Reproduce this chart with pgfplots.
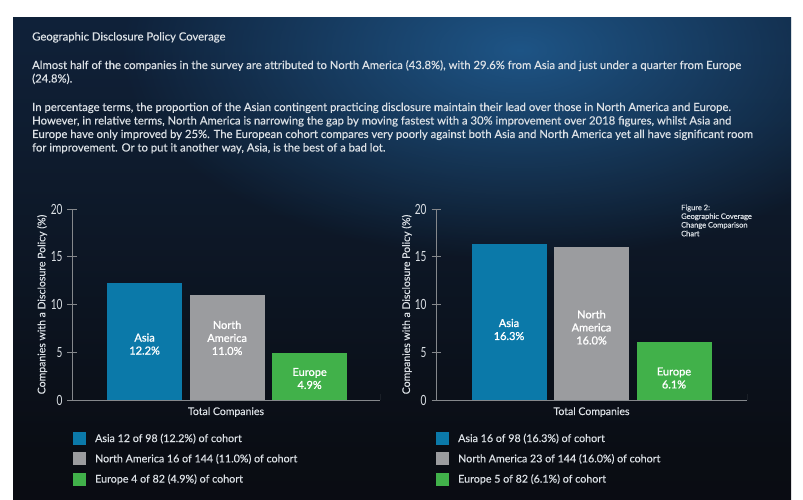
\documentclass[border=0pt]{standalone}
\usepackage{pgfplots}
\pgfplotsset{compat=1.18}
\usepackage{fontspec}
\setmainfont{Lato}[FakeBold=0.3]
\newfontfamily\tickfont{Lato}[FakeStretch=0.72]
\newfontfamily\barfont{Lato}[FakeBold=1.2]
\usetikzlibrary{fadings}
\definecolor{asia}{HTML}{0B79A9}
\definecolor{namer}{HTML}{9B9C9F}
\definecolor{europe}{HTML}{41B14A}
\definecolor{txt}{HTML}{DCE1E6}
\definecolor{axisc}{HTML}{85888C}
\definecolor{bgtop}{HTML}{112B4E}
\definecolor{bgmid}{HTML}{0E1B2D}
\definecolor{bglow}{HTML}{0A0D14}
\definecolor{bgbot}{HTML}{07080C}
\definecolor{glow}{HTML}{2366A0}
\pgfdeclareverticalshading{bgshade}{100bp}{color(0bp)=(bgbot); color(30bp)=(bglow); color(60bp)=(bgmid); color(100bp)=(bgtop)}
\tikzfading[name=glowfade, inner color=transparent!25, outer color=transparent!100]
\tikzset{barlab/.style={text=white, align=center, font=\barfont\fontsize{11}{13}\selectfont}}
\pgfplotsset{
  mybars/.style={
    scale only axis, height=191pt, ymin=0, ymax=20,
    axis lines=left,
    axis line style={-, draw=axisc, line width=0.8pt},
    ytick={0,5,10,15,20}, xtick=\empty,
    tick align=center, major tick length=9pt,
    tick style={draw=axisc, line width=0.8pt},
    /pgf/number format/assume math mode=true,
    yticklabel style={text=txt, font=\tickfont\fontsize{14}{14}\selectfont, xshift=-1.5pt},
    every axis y label/.style={rotate=90, anchor=center, text=txt, font=\fontsize{10.5}{12}\selectfont},
    every axis x label/.style={anchor=center, text=txt, font=\fontsize{10.5}{12}\selectfont},
    ylabel={Companies with a Disclosure Policy (\%)},
    xlabel={Total Companies},
    legend style={draw=none, fill=none, text=txt, font=\fontsize{10.7}{12}\selectfont,
      anchor=north west, row sep=6.5pt, inner sep=0pt},
    legend cell align=left,
  },
  barA/.style={ybar, bar width=75pt, bar shift=0pt, fill=asia, draw=none,
    legend image code/.code={\fill[asia] (0pt,-6.5pt) rectangle (13pt,6.5pt); \path (20pt,0pt);}},
  barN/.style={ybar, bar width=75pt, bar shift=0pt, fill=namer, draw=none,
    legend image code/.code={\fill[namer] (0pt,-6.5pt) rectangle (13pt,6.5pt); \path (20pt,0pt);}},
  barE/.style={ybar, bar width=75pt, bar shift=0pt, fill=europe, draw=none,
    legend image code/.code={\fill[europe] (0pt,-6.5pt) rectangle (13pt,6.5pt); \path (20pt,0pt);}},
}
\begin{document}
\begin{tikzpicture}[x=1pt,y=1pt]
\useasboundingbox (0,0) rectangle (803,500);
\fill[white] (0,0) rectangle (803,500);
\shade[shading=bgshade] (13,0) rectangle (791,482);
\begin{scope}
\clip (13,0) rectangle (791,482);
\fill[glow, path fading=glowfade] (520,450) ellipse (400 and 210);
\end{scope}
\begin{scope}[text=txt, inner sep=0pt]
\node[anchor=base west, font=\fontsize{11.3}{13}\selectfont] at (32,459.5) {Geographic Disclosure Policy Coverage};
\node[anchor=base west, font=\fontsize{11.3}{13}\selectfont] at (32,431) {Almost half of the companies in the survey are attributed to North America (43.8\%), with 29.6\% from Asia and just under a quarter from Europe};
\node[anchor=base west, font=\fontsize{11.3}{13}\selectfont] at (32,417.5) {(24.8\%).};
\node[anchor=base west, font=\fontsize{11.3}{13}\selectfont] at (32,389) {In percentage terms, the proportion of the Asian contingent practicing disclosure maintain their lead over those in North America and Europe.};
\node[anchor=base west, font=\fontsize{11.3}{13}\selectfont] at (32,375.5) {However, in relative terms, North America is narrowing the gap by moving fastest with a 30\% improvement over 2018 figures, whilst Asia and};
\node[anchor=base west, font=\fontsize{11.3}{13}\selectfont] at (32,362) {Europe have only improved by 25\%. The European cohort compares very poorly against both Asia and North America yet all have significant room};
\node[anchor=base west, font=\fontsize{11.3}{13}\selectfont] at (32,348.5) {for improvement. Or to put it another way, Asia, is the best of a bad lot.};
\node[anchor=north west, align=left, font=\fontsize{7.5}{8.7}\selectfont] at (681,295.5) {Figure 2:\\Geographic Coverage\\Change Comparison\\Chart};
\end{scope}

\begin{axis}[mybars, at={(72pt,100pt)}, anchor=south west, width=308pt,
  xmin=-0.88, xmax=2.853,
  every axis y label/.append style={at={(axis description cs:-0.097,0.5)}},
  every axis x label/.append style={at={(axis description cs:0.5,-0.063)}},
  legend style={at={(axis description cs:0.003,-0.165)}}]
\addplot[barA] coordinates {(0,12.2)};
\addlegendentry{Asia 12 of 98 (12.2\%) of cohort}
\addplot[barN] coordinates {(1,11.0)};
\addlegendentry{North America 16 of 144 (11.0\%) of cohort}
\addplot[barE] coordinates {(2,4.9)};
\addlegendentry{Europe 4 of 82 (4.9\%) of cohort}
\draw[axisc, line width=0.8pt] (rel axis cs:1,0) -- ([yshift=6pt]rel axis cs:1,0);
\node[barlab] at (axis cs:0,5.86) {Asia\\12.2\%};
\node[barlab] at (axis cs:1,6.5) {North\\America\\11.0\%};
\node[barlab] at (axis cs:2,2.25) {Europe\\4.9\%};
\end{axis}

\begin{axis}[mybars, at={(436pt,100pt)}, anchor=south west, width=311pt,
  xmin=-0.885, xmax=2.885,
  every axis y label/.append style={at={(axis description cs:-0.094,0.5)}},
  every axis x label/.append style={at={(axis description cs:0.5,-0.063)}},
  legend style={at={(axis description cs:0.0,-0.165)}}]
\addplot[barA] coordinates {(0,16.3)};
\addlegendentry{Asia 16 of 98 (16.3\%) of cohort}
\addplot[barN] coordinates {(1,16.0)};
\addlegendentry{North America 23 of 144 (16.0\%) of cohort}
\addplot[barE] coordinates {(2,6.1)};
\addlegendentry{Europe 5 of 82 (6.1\%) of cohort}
\draw[axisc, line width=0.8pt] (rel axis cs:1,0) -- ([yshift=6pt]rel axis cs:1,0);
\node[barlab] at (axis cs:0,7.38) {Asia\\16.3\%};
\node[barlab] at (axis cs:1,7.6) {North\\America\\16.0\%};
\node[barlab] at (axis cs:2,2.3) {Europe\\6.1\%};
\end{axis}
\end{tikzpicture}
\end{document}
